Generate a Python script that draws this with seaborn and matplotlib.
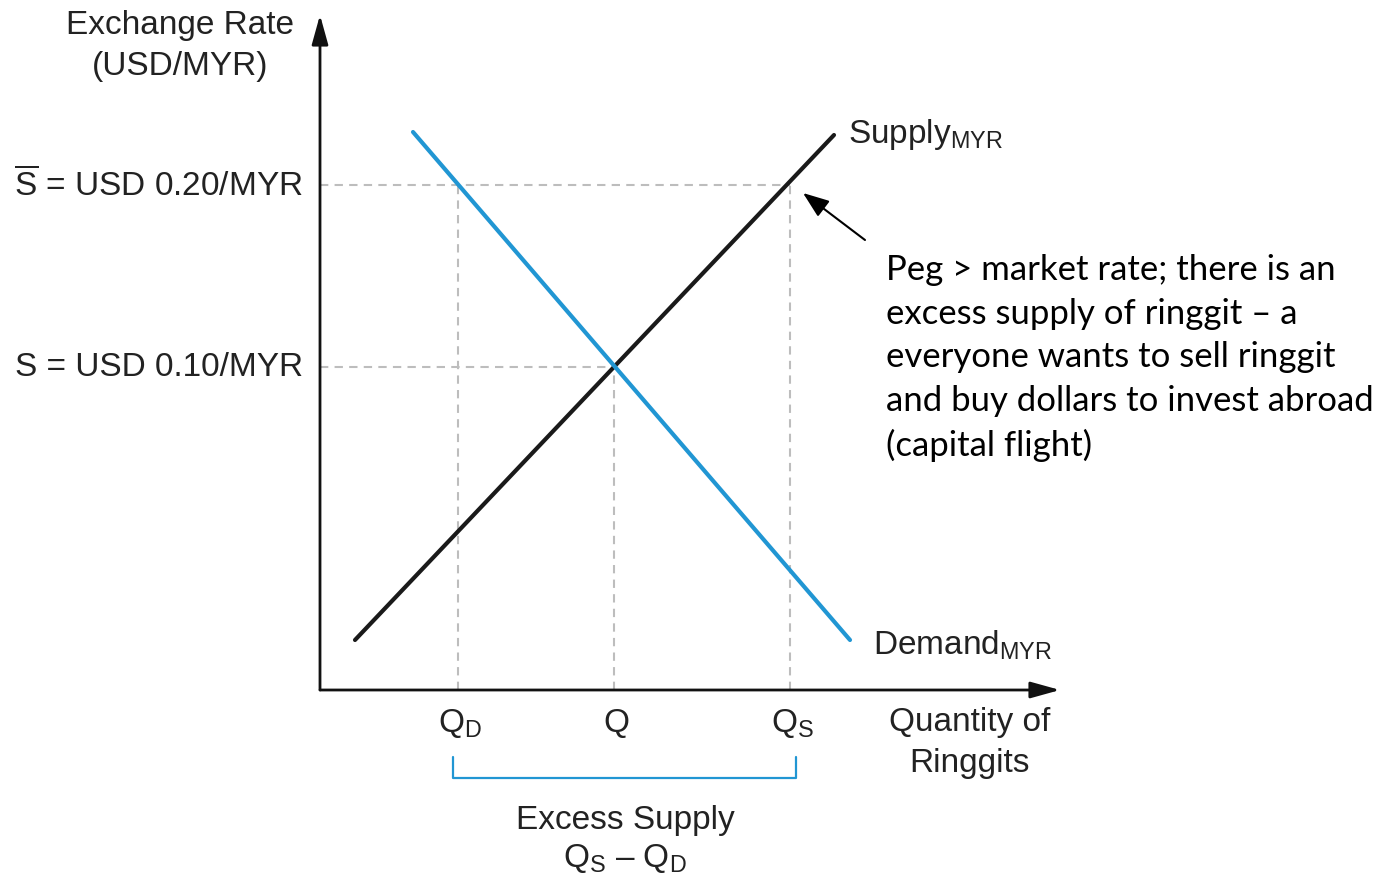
import matplotlib.pyplot as plt
import seaborn as sns
import pandas as pd

# schematic units: quantity along x, rate index along y (origin of the diagram at 0,0)
curve = ["Supply", "Supply", "Demand", "Demand"]
qty = [0.35, 5.14, 0.93, 5.30]
rate = [0.50, 5.55, 5.58, 0.50]

peg_rate = 5.05      # S-bar = USD 0.20/MYR
market_rate = 3.23   # S = USD 0.10/MYR
q_d = 1.38
q_eq = 2.94
q_s = 4.70

rate_labels = [r"$\overline{\mathrm{S}}$ = USD 0.20/MYR", "S = USD 0.10/MYR"]
q_labels = [r"Q$_{\mathrm{D}}$", "Q", r"Q$_{\mathrm{S}}$"]

veri = pd.DataFrame({"curve": curve, "qty": qty, "rate": rate})

sns.set_style("white")
plt.rcParams["font.family"] = ["Liberation Sans", "DejaVu Sans"]
plt.rcParams["mathtext.fontset"] = "custom"
plt.rcParams["mathtext.rm"] = "Liberation Sans"
plt.rcParams["mathtext.it"] = "Liberation Sans:italic"
plt.rcParams["mathtext.bf"] = "Liberation Sans:bold"

blue = "#2196d3"
ink = "#222222"
grey = "#bdbdbd"

fig = plt.figure(figsize=(13.98, 8.80), dpi=100)
ax = fig.add_axes([0, 0, 1, 1])
ax.set_xlim(-3.20, 10.78)
ax.set_ylim(-1.90, 6.90)
ax.axis("off")

# guide lines
dash = dict(color=grey, lw=1.5, ls=(0, (4, 3)), zorder=1)
ax.plot([0, q_s], [peg_rate, peg_rate], **dash)
ax.plot([0, q_eq], [market_rate, market_rate], **dash)
ax.plot([q_d, q_d], [0, peg_rate], **dash)
ax.plot([q_s, q_s], [0, peg_rate], **dash)
ax.plot([q_eq, q_eq], [0, market_rate], **dash)

sns.lineplot(data=veri, x="qty", y="rate", hue="curve",
             palette={"Supply": "#1a1a1a", "Demand": blue},
             sort=False, estimator=None, legend=False, ax=ax, lw=3, zorder=3)

# axes with arrows
arr = dict(arrowstyle="-|>,head_length=0.9,head_width=0.25", color="#111111", lw=2,
           shrinkA=0, shrinkB=0, mutation_scale=20)
ax.annotate("", xy=(0, 6.75), xytext=(0, 0), arrowprops=arr)
ax.annotate("", xy=(7.40, 0), xytext=(0, 0), arrowprops=arr)

fs = 24
ax.text(-1.40, 6.44, "Exchange Rate\n(USD/MYR)", ha="center", va="center",
        fontsize=fs, color=ink, linespacing=1.45)
ax.text(-0.17, peg_rate, rate_labels[0], ha="right", va="center", fontsize=fs, color=ink)
ax.text(-0.17, market_rate, rate_labels[1], ha="right", va="center", fontsize=fs, color=ink)

for q, lab in zip([q_d, q_eq, q_s], q_labels):
    ax.text(q + 0.02, -0.42, lab, ha="center", va="baseline", fontsize=fs, color=ink)

ax.text(6.50, -0.53, "Quantity of\nRinggits", ha="center", va="center",
        fontsize=fs, color=ink, linespacing=1.4)

ax.text(5.28, 5.55, r"Supply$_{\mathrm{MYR}}$", ha="left", va="center", fontsize=fs, color=ink)
ax.text(5.53, 0.45, r"Demand$_{\mathrm{MYR}}$", ha="left", va="center", fontsize=fs, color=ink)

# bracket for excess supply
ax.plot([q_d - 0.05, q_d - 0.05, q_s + 0.06, q_s + 0.06], [-0.67, -0.88, -0.88, -0.67],
        color=blue, lw=1.6)
ax.text(3.05, -1.30, "Excess Supply", ha="center", va="center", fontsize=fs, color=ink)
ax.text(3.05, -1.68, r"Q$_{\mathrm{S}}$ – Q$_{\mathrm{D}}$", ha="center", va="center",
        fontsize=fs, color=ink)

# note with arrow
ax.annotate("", xy=(4.83, 4.97), xytext=(5.45, 4.50),
            arrowprops=dict(arrowstyle="-|>,head_length=0.8,head_width=0.3", color="black",
                            lw=1.5, shrinkA=0, shrinkB=0, mutation_scale=20))
ax.text(5.66, 4.36,
        "Peg > market rate; there is an\nexcess supply of ringgit – a\n"
        "everyone wants to sell ringgit\nand buy dollars to invest abroad\n(capital flight)",
        ha="left", va="top", fontsize=25, family=["Lato", "DejaVu Sans"],
        color="black", linespacing=1.45)

plt.savefig("out.png", dpi=100, facecolor="white")
